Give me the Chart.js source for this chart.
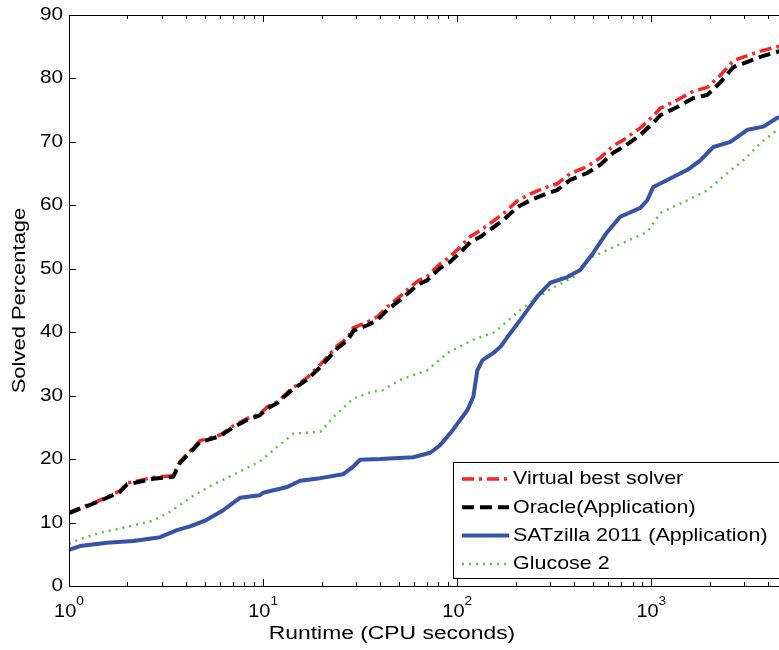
<!DOCTYPE html>
<html>
<head>
<meta charset="utf-8">
<title>Solved percentage vs runtime</title>
<script src="https://cdn.jsdelivr.net/npm/chart.js@4.4.1/dist/chart.umd.min.js"></script>
<style>
  html, body { margin: 0; padding: 0; background: #fff; overflow: hidden; }
  #wrap { width: 790px; height: 650px; }
</style>
</head>
<body>
<div id="wrap"><canvas id="runtimeChart" width="790" height="650"></canvas></div>
<script>
'use strict';

// Runtime in CPU seconds (log axis) and solved percentage for each solver
const oracleTime = [
  1, 1.39, 1.83, 1.99, 2.71, 3.44, 3.73, 4.73, 6.0, 7.0, 8.3, 9.6, 10.5, 11.8,
  13.8, 16.8, 19.7, 24, 27.4, 29.1, 34.4, 38.7, 43.6, 50.9, 62.2, 70, 81.7, 92,
  104, 117, 131, 153, 173, 204, 238, 291, 327, 382, 467, 546, 637, 718, 878,
  1023, 1112, 1360, 1646, 1945, 2270, 2650, 3130, 3650, 4460, 5000,
];
const oraclePct = [
  11.5, 13.2, 14.8, 16.0, 16.9, 17.2, 19.4, 22.7, 23.6, 25.0, 26.2, 26.9, 28.0,
  28.8, 30.7, 32.5, 34.5, 37.4, 38.8, 40.2, 41.1, 41.9, 43.5, 45.1, 47.4, 48.2,
  50.1, 51.1, 52.6, 54.2, 55.0, 56.5, 57.7, 59.7, 60.8, 61.9, 62.4, 64.0, 65.1,
  66.4, 68.3, 69.2, 71.1, 73.0, 74.2, 75.5, 76.9, 77.4, 79.4, 81.8, 82.6, 83.4,
  84.2, 84.6,
];

// Virtual best solver sits on top of the oracle, a little higher for long runs
const vbsTime = oracleTime;
const vbsPct = [
  11.6, 13.3, 15.0, 16.2, 17.1, 17.4, 19.6, 22.9, 23.8, 25.2, 26.4, 27.1, 28.2,
  29.0, 30.9, 32.8, 34.9, 37.8, 39.2, 40.7, 41.6, 42.4, 44.0, 45.7, 48.0, 48.8,
  50.8, 51.9, 53.5, 55.1, 56.0, 57.5, 58.7, 60.7, 61.8, 62.9, 63.4, 65.0, 66.1,
  67.5, 69.4, 70.3, 72.2, 74.1, 75.3, 76.6, 78.0, 78.6, 80.5, 82.8, 83.6, 84.3,
  85.0, 85.3,
];

const satzillaTime = [
  1, 1.14, 1.57, 2.14, 2.95, 3.6, 4.2, 5.1, 6.2, 7.0, 7.6, 9.6, 10, 13.3, 15.5,
  19.7, 25.8, 29.1, 31.6, 40, 59.3, 72.6, 81.7, 95, 112.7, 121, 127, 135, 153,
  167, 181, 211, 258, 302, 369, 430, 502, 593, 692, 878, 953, 1024, 1208, 1535,
  1790, 2088, 2555, 3126, 3780, 4460, 5000,
];
const satzillaPct = [
  5.7, 6.3, 6.8, 7.1, 7.7, 8.8, 9.4, 10.4, 11.9, 13.1, 13.9, 14.3, 14.7, 15.6,
  16.6, 17.0, 17.6, 18.8, 19.9, 20.0, 20.3, 21.0, 22.2, 24.6, 27.7, 29.8, 34.0,
  35.6, 36.7, 37.7, 39.2, 41.9, 45.6, 47.8, 48.7, 49.8, 52.5, 55.8, 58.2, 59.6,
  60.8, 62.9, 64.0, 65.6, 67.1, 69.2, 70.0, 71.9, 72.4, 73.8, 74.3,
];

const glucoseTime = [
  1, 1.14, 1.45, 1.99, 2.71, 3.31, 4.36, 5.53, 7.0, 9.6, 11.8, 14.3, 19.7, 23,
  29, 36, 41.5, 50.9, 70, 88.8, 121, 153, 167, 211, 291, 396, 485, 637, 953,
  1112, 1535, 1945, 2465, 2980, 3650, 4460, 5000,
];
const glucosePct = [
  6.6, 7.4, 8.4, 9.3, 10.3, 11.7, 14.2, 16.0, 17.5, 19.6, 21.9, 24.0, 24.3,
  26.6, 29.5, 30.6, 30.9, 32.5, 34.0, 36.7, 38.8, 39.9, 40.8, 43.5, 46.5, 48.7,
  51.7, 53.4, 55.8, 58.8, 60.8, 62.4, 65.1, 67.1, 69.8, 71.9, 72.5,
];

const seriesNames = [
  'Virtual best solver',
  'Oracle(Application)',
  'SATzilla 2011 (Application)',
  'Glucose 2',
];
const yTicks = [0, 10, 20, 30, 40, 50, 60, 70, 80, 90];
const xDecades = [0, 1, 2, 3];
const xTitle = 'Runtime (CPU seconds)';
const yTitle = 'Solved Percentage';

const FONT = '"Liberation Sans", Arial, Helvetica, sans-serif';

const toPoints = (xs, ys) => xs.map((x, i) => ({ x, y: ys[i] }));

// text with a horizontal stretch, the figure's font runs wider than Arial
function drawText(ctx, str, x, y, size, stretch, align, baseline) {
  ctx.save();
  ctx.font = `${size}px ${FONT}`;
  ctx.textBaseline = baseline || 'alphabetic';
  const w = ctx.measureText(str).width * stretch;
  let left = x;
  if (align === 'center') left = x - w / 2;
  else if (align === 'right') left = x - w;
  ctx.translate(left, y);
  ctx.scale(stretch, 1);
  ctx.textAlign = 'left';
  ctx.fillText(str, 0, 0);
  ctx.restore();
  return w;
}

function textWidth(ctx, str, size, stretch) {
  ctx.font = `${size}px ${FONT}`;
  return ctx.measureText(str).width * stretch;
}

// MATLAB style box: inward ticks on all sides, labels, titles and legend
const matlabAxes = {
  id: 'matlabAxes',
  afterDraw(chart) {
    const { ctx, chartArea: a } = chart;
    const xs = chart.scales.x;
    const ys = chart.scales.y;
    ctx.save();
    ctx.fillStyle = '#000';
    ctx.strokeStyle = '#000';
    ctx.lineWidth = 1;
    ctx.setLineDash([]);

    // frame
    ctx.strokeRect(a.left + 0.5, a.top + 0.5, a.right - a.left, a.bottom - a.top);

    // y ticks
    ctx.beginPath();
    yTicks.forEach(v => {
      const py = Math.round(ys.getPixelForValue(v)) + 0.5;
      ctx.moveTo(a.left, py);
      ctx.lineTo(a.left + 7, py);
      ctx.moveTo(a.right, py);
      ctx.lineTo(a.right - 7, py);
    });
    // x ticks, majors at decades and minors in between
    xDecades.forEach(d => {
      for (let m = 1; m <= 9; m++) {
        const v = m * Math.pow(10, d);
        if (v > xs.max) break;
        const px = Math.round(xs.getPixelForValue(v)) + 0.5;
        const len = m === 1 ? 7 : 4;
        ctx.moveTo(px, a.bottom);
        ctx.lineTo(px, a.bottom - len);
        ctx.moveTo(px, a.top);
        ctx.lineTo(px, a.top + len);
      }
    });
    ctx.stroke();

    // y tick labels
    yTicks.forEach(v => {
      drawText(ctx, String(v), a.left - 6, ys.getPixelForValue(v), 18, 1.15, 'right', 'middle');
    });

    // x tick labels as 10 with a raised exponent
    xDecades.forEach(d => {
      const px = xs.getPixelForValue(Math.pow(10, d));
      const exp = String(d);
      const wBase = textWidth(ctx, '10', 19, 1.05);
      const wExp = textWidth(ctx, exp, 13, 1.05);
      const left = px - (wBase + wExp) / 2;
      drawText(ctx, '10', left, a.bottom + 31, 19, 1.05, 'left');
      drawText(ctx, exp, left + wBase, a.bottom + 19, 13, 1.05, 'left');
    });

    // axis titles
    drawText(ctx, xTitle, 392, 639, 18, 1.27, 'center');
    ctx.save();
    ctx.translate(25, (a.top + a.bottom) / 2);
    ctx.rotate(-Math.PI / 2);
    drawText(ctx, yTitle, 0, 0, 18, 1.22, 'center');
    ctx.restore();

    // legend box in the lower right corner
    const box = { left: 453, top: 462, bottom: 578 };
    ctx.fillStyle = '#fff';
    ctx.fillRect(box.left, box.top, chart.width - box.left, box.bottom - box.top);
    ctx.strokeRect(box.left + 0.5, box.top + 0.5, chart.width, box.bottom - box.top);

    chart.data.datasets.forEach((ds, i) => {
      const rowY = 479 + i * 28.3;
      ctx.save();
      ctx.strokeStyle = ds.borderColor;
      ctx.lineWidth = ds.borderWidth;
      ctx.setLineDash(ds.borderDash || []);
      ctx.beginPath();
      ctx.moveTo(462, rowY);
      ctx.lineTo(509, rowY);
      ctx.stroke();
      ctx.restore();
      ctx.fillStyle = '#000';
      drawText(ctx, ds.label, 513, rowY, 19, 1.13, 'left', 'middle');
    });

    ctx.restore();
  },
};

const ctx = document.getElementById('runtimeChart').getContext('2d');
new Chart(ctx, {
  type: 'line',
  data: {
    datasets: [
      {
        label: seriesNames[0],
        data: toPoints(vbsTime, vbsPct),
        borderColor: '#ff2222',
        borderWidth: 3.5,
        borderDash: [12, 5, 3, 5],
        order: 2,
      },
      {
        label: seriesNames[1],
        data: toPoints(oracleTime, oraclePct),
        borderColor: '#000000',
        borderWidth: 4,
        borderDash: [12, 6],
        order: 1,
      },
      {
        label: seriesNames[2],
        data: toPoints(satzillaTime, satzillaPct),
        borderColor: '#3653a6',
        borderWidth: 4,
        order: 3,
      },
      {
        label: seriesNames[3],
        data: toPoints(glucoseTime, glucosePct),
        borderColor: '#5cc43c',
        borderWidth: 2.5,
        borderDash: [2, 5],
        order: 4,
      },
    ],
  },
  options: {
    responsive: false,
    animation: false,
    layout: { padding: { left: 69, right: 3, top: 15, bottom: 64 } },
    elements: {
      point: { radius: 0 },
      line: { tension: 0, borderJoinStyle: 'round', fill: false },
    },
    plugins: {
      legend: { display: false },
      tooltip: { enabled: false },
    },
    scales: {
      x: { type: 'logarithmic', min: 1, max: 5000, display: false },
      y: { type: 'linear', min: 0, max: 90, display: false },
    },
  },
  plugins: [matlabAxes],
});
</script>
</body>
</html>
